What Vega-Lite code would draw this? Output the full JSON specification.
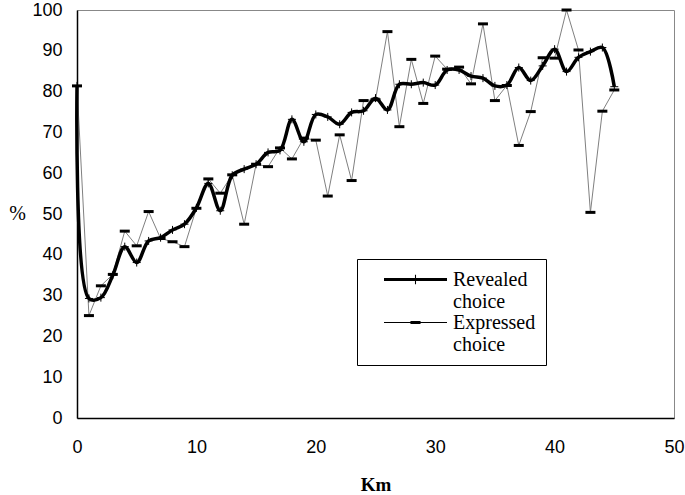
{
  "$schema": "https://vega.github.io/schema/vega-lite/v6.json",
  "width": 597,
  "height": 408,
  "autosize": {"type": "none"},
  "padding": {"left": 77, "top": 10, "right": 11, "bottom": 77},
  "background": "white",
  "config": {
    "view": {"stroke": "#888", "strokeWidth": 1},
    "axis": {
      "grid": false,
      "ticks": false,
      "labelFlush": false,
      "domainColor": "black",
      "domainWidth": 1.5,
      "labelFont": "Liberation Sans",
      "labelFontSize": 18,
      "labelColor": "black",
      "titleColor": "black"
    }
  },
  "data": {
    "values": [
      {"km": 0, "series": "Revealed choice", "value": 81.4},
      {"km": 1, "series": "Revealed choice", "value": 29.3},
      {"km": 2, "series": "Revealed choice", "value": 29.5},
      {"km": 3, "series": "Revealed choice", "value": 35},
      {"km": 4, "series": "Revealed choice", "value": 42},
      {"km": 5, "series": "Revealed choice", "value": 38.1},
      {"km": 6, "series": "Revealed choice", "value": 43.4},
      {"km": 7, "series": "Revealed choice", "value": 44.2},
      {"km": 8, "series": "Revealed choice", "value": 46.1},
      {"km": 9, "series": "Revealed choice", "value": 47.5},
      {"km": 10, "series": "Revealed choice", "value": 51.5},
      {"km": 11, "series": "Revealed choice", "value": 57.5},
      {"km": 12, "series": "Revealed choice", "value": 50.8},
      {"km": 13, "series": "Revealed choice", "value": 59.5},
      {"km": 14, "series": "Revealed choice", "value": 61},
      {"km": 15, "series": "Revealed choice", "value": 62.2},
      {"km": 16, "series": "Revealed choice", "value": 65.1},
      {"km": 17, "series": "Revealed choice", "value": 65.6},
      {"km": 18, "series": "Revealed choice", "value": 73.2},
      {"km": 19, "series": "Revealed choice", "value": 67.7},
      {"km": 20, "series": "Revealed choice", "value": 74.4},
      {"km": 21, "series": "Revealed choice", "value": 73.8},
      {"km": 22, "series": "Revealed choice", "value": 72},
      {"km": 23, "series": "Revealed choice", "value": 74.9},
      {"km": 24, "series": "Revealed choice", "value": 75.3},
      {"km": 25, "series": "Revealed choice", "value": 78.4},
      {"km": 26, "series": "Revealed choice", "value": 75.5},
      {"km": 27, "series": "Revealed choice", "value": 81.8},
      {"km": 28, "series": "Revealed choice", "value": 81.8},
      {"km": 29, "series": "Revealed choice", "value": 82.2},
      {"km": 30, "series": "Revealed choice", "value": 81.6},
      {"km": 31, "series": "Revealed choice", "value": 85.3},
      {"km": 32, "series": "Revealed choice", "value": 85.3},
      {"km": 33, "series": "Revealed choice", "value": 83.8},
      {"km": 34, "series": "Revealed choice", "value": 83.3},
      {"km": 35, "series": "Revealed choice", "value": 81.4},
      {"km": 36, "series": "Revealed choice", "value": 81.6},
      {"km": 37, "series": "Revealed choice", "value": 85.9},
      {"km": 38, "series": "Revealed choice", "value": 82.7},
      {"km": 39, "series": "Revealed choice", "value": 86.3},
      {"km": 40, "series": "Revealed choice", "value": 90.4},
      {"km": 41, "series": "Revealed choice", "value": 84.9},
      {"km": 42, "series": "Revealed choice", "value": 88.4},
      {"km": 43, "series": "Revealed choice", "value": 89.8},
      {"km": 44, "series": "Revealed choice", "value": 90.8},
      {"km": 45, "series": "Revealed choice", "value": 81.2},
      {"km": 0, "series": "Expressed choice", "value": 81.4},
      {"km": 1, "series": "Expressed choice", "value": 25.1},
      {"km": 2, "series": "Expressed choice", "value": 32.4},
      {"km": 3, "series": "Expressed choice", "value": 35.2},
      {"km": 4, "series": "Expressed choice", "value": 45.8},
      {"km": 5, "series": "Expressed choice", "value": 42.2},
      {"km": 6, "series": "Expressed choice", "value": 50.6},
      {"km": 7, "series": "Expressed choice", "value": 44},
      {"km": 8, "series": "Expressed choice", "value": 43.2},
      {"km": 9, "series": "Expressed choice", "value": 42},
      {"km": 10, "series": "Expressed choice", "value": 51.4},
      {"km": 11, "series": "Expressed choice", "value": 58.6},
      {"km": 12, "series": "Expressed choice", "value": 55.1},
      {"km": 13, "series": "Expressed choice", "value": 59.6},
      {"km": 14, "series": "Expressed choice", "value": 47.5},
      {"km": 15, "series": "Expressed choice", "value": 62.2},
      {"km": 16, "series": "Expressed choice", "value": 61.6},
      {"km": 17, "series": "Expressed choice", "value": 66.2},
      {"km": 18, "series": "Expressed choice", "value": 63.5},
      {"km": 19, "series": "Expressed choice", "value": 68.6},
      {"km": 20, "series": "Expressed choice", "value": 68.1},
      {"km": 21, "series": "Expressed choice", "value": 54.4},
      {"km": 22, "series": "Expressed choice", "value": 69.4},
      {"km": 23, "series": "Expressed choice", "value": 58.2},
      {"km": 24, "series": "Expressed choice", "value": 77.8},
      {"km": 25, "series": "Expressed choice", "value": 78},
      {"km": 26, "series": "Expressed choice", "value": 94.7},
      {"km": 27, "series": "Expressed choice", "value": 71.4},
      {"km": 28, "series": "Expressed choice", "value": 87.9},
      {"km": 29, "series": "Expressed choice", "value": 77.1},
      {"km": 30, "series": "Expressed choice", "value": 88.7},
      {"km": 31, "series": "Expressed choice", "value": 85.5},
      {"km": 32, "series": "Expressed choice", "value": 86},
      {"km": 33, "series": "Expressed choice", "value": 81.9},
      {"km": 34, "series": "Expressed choice", "value": 96.6},
      {"km": 35, "series": "Expressed choice", "value": 77.8},
      {"km": 36, "series": "Expressed choice", "value": 81.5},
      {"km": 37, "series": "Expressed choice", "value": 66.8},
      {"km": 38, "series": "Expressed choice", "value": 75.1},
      {"km": 39, "series": "Expressed choice", "value": 88.3},
      {"km": 40, "series": "Expressed choice", "value": 88.2},
      {"km": 41, "series": "Expressed choice", "value": 100},
      {"km": 42, "series": "Expressed choice", "value": 90.2},
      {"km": 43, "series": "Expressed choice", "value": 50.4},
      {"km": 44, "series": "Expressed choice", "value": 75.2},
      {"km": 45, "series": "Expressed choice", "value": 80.4}
    ]
  },
  "encoding": {
    "x": {
      "field": "km",
      "type": "quantitative",
      "scale": {"domain": [0, 50], "nice": false},
      "axis": {
        "values": [0, 10, 20, 30, 40, 50],
        "labelPadding": 20,
        "title": "Km",
        "titleFont": "Liberation Serif",
        "titleFontWeight": "bold",
        "titleFontSize": 19,
        "titleBaseline": "middle",
        "titleY": 66
      }
    },
    "y": {
      "field": "value",
      "type": "quantitative",
      "scale": {"domain": [0, 100], "nice": false},
      "axis": {
        "values": [0, 10, 20, 30, 40, 50, 60, 70, 80, 90, 100],
        "labelPadding": 15,
        "title": "%",
        "titleAngle": 0,
        "titleFont": "Liberation Serif",
        "titleFontWeight": "normal",
        "titleFontSize": 20,
        "titleAlign": "center",
        "titleBaseline": "middle",
        "titleX": -60,
        "titleY": 203
      }
    }
  },
  "layer": [
    {
      "transform": [{"filter": "datum.series == 'Expressed choice'"}],
      "mark": {"type": "line", "color": "#808080", "strokeWidth": 1}
    },
    {
      "transform": [{"filter": "datum.series == 'Revealed choice'"}],
      "mark": {"type": "line", "color": "black", "strokeWidth": 3.5, "interpolate": "catmull-rom"}
    },
    {
      "transform": [{"filter": "datum.series == 'Revealed choice'"}],
      "mark": {"type": "point", "shape": "M-1,0H1M0,-1V1", "filled": false, "stroke": "black", "strokeWidth": 1, "size": 64, "opacity": 1}
    },
    {
      "transform": [{"filter": "datum.series == 'Expressed choice'"}],
      "mark": {"type": "point", "shape": "M-1,-0.3H1V0.3H-1Z", "filled": true, "fill": "black", "strokeWidth": 0, "size": 100, "opacity": 1}
    },
    {
      "mark": {"type": "point", "filled": true, "color": "black", "opacity": 0},
      "encoding": {
        "shape": {
          "field": "series",
          "type": "nominal",
          "scale": {
            "domain": ["Revealed choice", "Expressed choice"],
            "range": [
              "M-3,-0.14H3V0.14H-3Z M-0.05,-0.45H0.05V0.45H-0.05Z",
              "M-3,-0.05H3V0.05H-3Z M-0.48,-0.14H0.48V0.14H-0.48Z"
            ]
          },
          "legend": {
            "orient": "none",
            "legendX": 280,
            "legendY": 249,
            "title": null,
            "strokeColor": "black",
            "padding": 10,
            "symbolOffset": 38,
            "symbolSize": 441,
            "symbolOpacity": 1,
            "symbolFillColor": "black",
            "symbolStrokeColor": "black",
            "symbolStrokeWidth": 0,
            "labelOffset": 27,
            "labelFont": "Liberation Serif",
            "labelFontSize": 20,
            "labelColor": "black",
            "labelLimit": 0,
            "labelBaseline": "middle",
            "rowPadding": 0,
            "labelExpr": "datum.label == 'Revealed choice' ? ['Revealed', 'choice'] : ['Expressed\u00a0\u00a0\u00a0', 'choice']"
          }
        }
      }
    }
  ]
}
